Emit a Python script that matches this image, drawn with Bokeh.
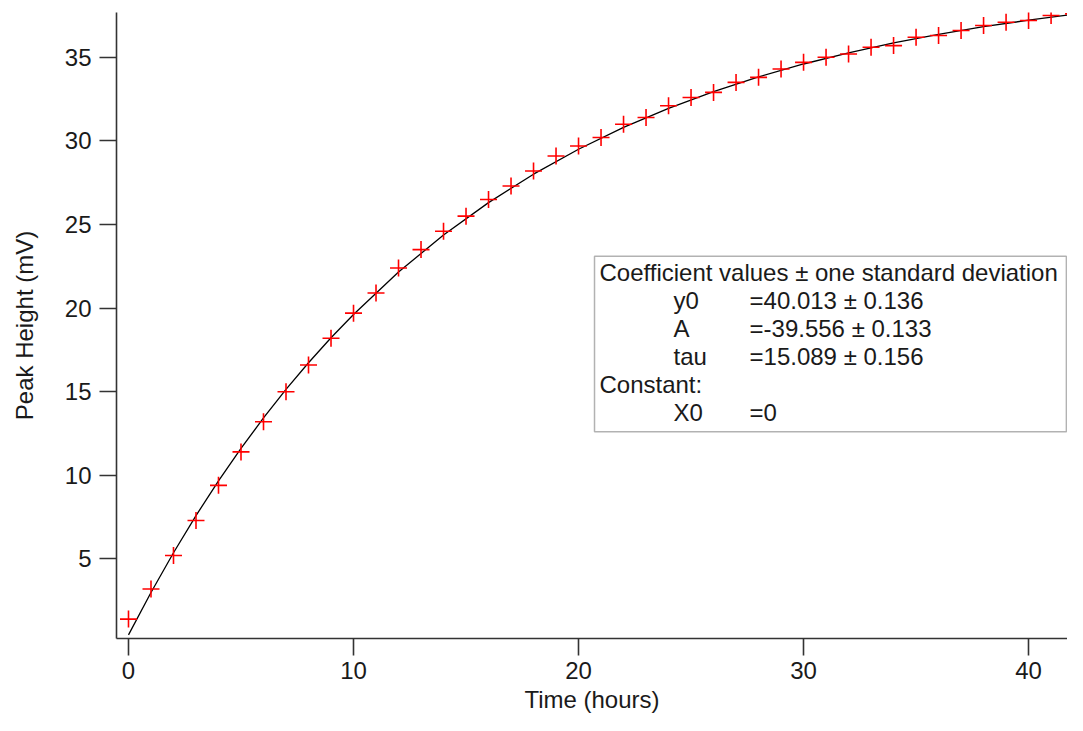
from bokeh.plotting import figure
from bokeh.models import ColumnDataSource, Range1d, FixedTicker, BoxAnnotation, Label
from bokeh.embed import file_html
from bokeh.resources import INLINE

# measured peak heights, one per hour
hours = list(range(0, 43))
peak_mv = [1.4, 3.2, 5.2, 7.3, 9.4, 11.4, 13.2, 15.0, 16.6, 18.2,
           19.7, 20.9, 22.4, 23.5, 24.6, 25.5, 26.5, 27.3, 28.2, 29.1,
           29.7, 30.2, 31.0, 31.4, 32.1, 32.6, 32.9, 33.5, 33.8, 34.3,
           34.7, 35.0, 35.2, 35.6, 35.7, 36.2, 36.3, 36.6, 36.9, 37.1,
           37.2, 37.5, 37.6]

# fitted curve
fit_x = [0, 1, 2, 3, 4, 5, 6, 7, 8, 9, 10, 12, 14, 16, 18, 20, 22, 24,
         26, 28, 30, 32, 34, 36, 38, 40, 42]
fit_y = [0.46, 2.99, 5.37, 7.59, 9.67, 11.61, 13.43, 15.14, 16.73, 18.23,
         19.62, 22.16, 24.37, 26.31, 28.01, 29.50, 30.81, 31.95, 32.95,
         33.83, 34.60, 35.27, 35.86, 36.37, 36.83, 37.22, 37.57]

# coefficient box text
box_rows = [
    ("Coefficient values \u00b1 one standard deviation", "", ""),
    ("", "y0", "=40.013 \u00b1 0.136"),
    ("", "A", "=-39.556 \u00b1 0.133"),
    ("", "tau", "=15.089 \u00b1 0.156"),
    ("Constant:", "", ""),
    ("", "X0", "=0"),
]

FONT = "Liberation Sans"
FS = "24px"

p = figure(width=1067, height=715, output_backend="svg", toolbar_location=None,
           x_range=Range1d(-0.533, 41.73), y_range=Range1d(0.24, 37.68),
           min_border_left=116, min_border_right=0, min_border_top=12,
           min_border_bottom=75)
p.outline_line_color = None
p.xgrid.visible = False
p.ygrid.visible = False

src = ColumnDataSource(data=dict(x=hours, y=peak_mv))
p.line(fit_x, fit_y, line_color="black", line_width=1.3)
p.scatter("x", "y", source=src, marker="cross", size=17, line_color="#ff0000",
          line_width=1.6)

for ax in (p.xaxis[0], p.yaxis[0]):
    ax.axis_line_color = "#333333"
    ax.axis_line_width = 1.6
    ax.major_tick_line_color = "#333333"
    ax.major_tick_line_width = 1.6
    ax.major_tick_out = 17
    ax.major_tick_in = 0
    ax.minor_tick_out = 0
    ax.minor_tick_in = 0
    ax.major_label_text_font = FONT
    ax.major_label_text_font_size = FS
    ax.major_label_text_color = "#1a1a1a"
    ax.axis_label_text_font = FONT
    ax.axis_label_text_font_size = FS
    ax.axis_label_text_font_style = "normal"
    ax.axis_label_text_color = "#1a1a1a"

p.xaxis.ticker = FixedTicker(ticks=[0, 10, 20, 30, 40])
p.yaxis.ticker = FixedTicker(ticks=[5, 10, 15, 20, 25, 30, 35])
p.xaxis.axis_label = "Time (hours)"
p.yaxis.axis_label = "Peak Height (mV)"
p.xaxis.major_label_standoff = 6
p.yaxis.major_label_standoff = 8
p.xaxis.axis_label_standoff = 4
p.yaxis.axis_label_standoff = 24

# coefficient box
p.add_layout(BoxAnnotation(left=20.71, right=41.68, bottom=12.6, top=23.1,
                           fill_color="white", fill_alpha=1.0,
                           line_color="black", line_width=1.5))
row_top = 22.14
row_step = 1.68
col_x = [20.93, 24.22, 27.6]
for i, row in enumerate(box_rows):
    for j, txt in enumerate(row):
        if not txt:
            continue
        p.add_layout(Label(x=col_x[j], y=row_top - i * row_step, text=txt,
                           text_font=FONT, text_font_size=FS,
                           text_color="#1a1a1a", text_baseline="middle",
                           text_align="left"))

open("out.html", "w").write(file_html(p, INLINE))
